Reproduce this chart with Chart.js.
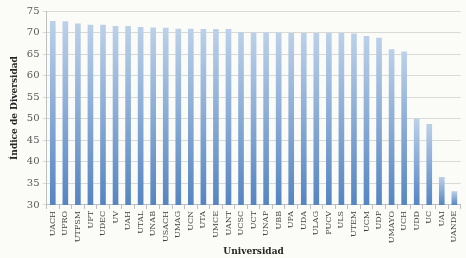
<!DOCTYPE html>
<html>
<head>
<meta charset="utf-8">
<script src="https://cdn.jsdelivr.net/npm/chart.js@4"></script>
<style>
  html, body { margin: 0; padding: 0; background: #fbfbf8; }
  #wrap { width: 466px; height: 258px; }
</style>
</head>
<body>
<div id="wrap"><canvas id="divChart" width="466" height="258"></canvas></div>
<script>
const universidades = ["UACH", "UFRO", "UTFSM", "UFT", "UDEC", "UV", "UAH", "UTAL", "UNAB", "USACH",
  "UMAG", "UCN", "UTA", "UMCE", "UANT", "UCSC", "UCT", "UNAP", "UBB", "UPA", "UDA", "ULAG",
  "PUCV", "ULS", "UTEM", "UCM", "UDP", "UMAYO", "UCH", "UDD", "UC", "UAI", "UANDE"];
const indice = [72.7, 72.6, 72.1, 71.8, 71.8, 71.5, 71.5, 71.3, 71.2, 71.1,
  70.9, 70.9, 70.8, 70.8, 70.8, 70.1, 70.0, 70.0, 70.0, 69.9, 69.9, 69.9,
  69.9, 69.9, 69.8, 69.2, 68.8, 66.1, 65.6, 50.0, 48.8, 36.5, 33.2];
const yMin = 30, yMax = 75, yStep = 5;

const serif = "'DejaVu Serif', 'Liberation Serif', serif";

// gradient per bar: light at the top, darker blue at the base
function barColor(context) {
  const chart = context.chart;
  const area = chart.chartArea;
  const y = chart.scales.y;
  if (!area || !y) return "#7fa6d3";
  const top = y.getPixelForValue(context.raw);
  const g = chart.ctx.createLinearGradient(0, top, 0, area.bottom);
  g.addColorStop(0, "#bcd1e9");
  g.addColorStop(1, "#5585c2");
  return g;
}

const ctx = document.getElementById("divChart").getContext("2d");
new Chart(ctx, {
  type: "bar",
  data: {
    labels: universidades,
    datasets: [{
      label: "Índice de Diversidad",
      data: indice,
      backgroundColor: barColor,
      categoryPercentage: 0.9,
      barPercentage: 0.5
    }]
  },
  options: {
    responsive: false,
    animation: false,
    layout: { padding: { top: 11, right: 4, left: 5, bottom: 0 } },
    plugins: {
      legend: { display: false },
      tooltip: { enabled: false }
    },
    scales: {
      x: {
        grid: { display: true, drawOnChartArea: false, offset: true, tickLength: 4, color: "#bfbfbf" },
        border: { color: "#bfbfbf" },
        ticks: {
          autoSkip: false, minRotation: 90, maxRotation: 90, padding: 2,
          color: "#404040", font: { family: serif, size: 8 }
        },
        title: {
          display: true, text: "Universidad", color: "#262626", padding: { top: 1, bottom: 1 },
          font: { family: serif, size: 9, weight: "bold" }
        }
      },
      y: {
        min: yMin, max: yMax,
        grid: { color: "#d9d9d6", tickLength: 4 },
        border: { color: "#bfbfbf" },
        ticks: {
          stepSize: yStep, padding: 3,
          color: "#595959", font: { family: serif, size: 10 }
        },
        title: {
          display: true, text: "Índice de Diversidad", color: "#262626", padding: { bottom: 4 },
          font: { family: serif, size: 9, weight: "bold" }
        }
      }
    }
  }
});
</script>
</body>
</html>
